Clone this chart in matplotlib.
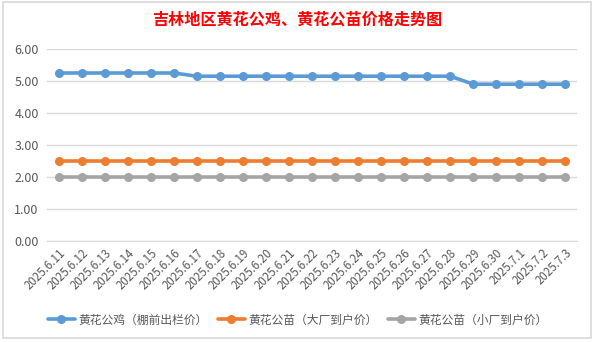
import matplotlib
matplotlib.use("Agg")
import matplotlib.pyplot as plt
from matplotlib.patches import Rectangle

plt.rcParams['font.family'] = ['Noto Sans CJK SC', 'DejaVu Sans']

dates = ["2025.6.11", "2025.6.12", "2025.6.13", "2025.6.14", "2025.6.15", "2025.6.16",
         "2025.6.17", "2025.6.18", "2025.6.19", "2025.6.20", "2025.6.21", "2025.6.22",
         "2025.6.23", "2025.6.24", "2025.6.25", "2025.6.26", "2025.6.27", "2025.6.28",
         "2025.6.29", "2025.6.30", "2025.7.1", "2025.7.2", "2025.7.3"]
rooster = [5.25, 5.25, 5.25, 5.25, 5.25, 5.25,
           5.15, 5.15, 5.15, 5.15, 5.15, 5.15,
           5.15, 5.15, 5.15, 5.15, 5.15, 5.15,
           4.90, 4.90, 4.90, 4.90, 4.90]
chick_large = [2.5] * 23
chick_small = [2.0] * 23
series_names = ["黄花公鸡（棚前出栏价）", "黄花公苗（大厂到户价）", "黄花公苗（小厂到户价）"]
title = "吉林地区黄花公鸡、黄花公苗价格走势图"
yticks = [0, 1, 2, 3, 4, 5, 6]

colors = ["#5B9BD5", "#ED7D31", "#A5A5A5"]

fig = plt.figure(figsize=(5.95, 3.42), dpi=100)
fig.patch.set_facecolor("white")

# chart frame
fig.patches.append(Rectangle((3 / 595, 1 - 338 / 342), 588 / 595, 336 / 342,
                             transform=fig.transFigure, fill=False,
                             edgecolor="#D9D9D9", linewidth=1.2))

ax = fig.add_axes([47 / 595, 1 - 241 / 342, 530 / 595, 192 / 342])
x = list(range(len(dates)))
for vals, c, name in zip([rooster, chick_large, chick_small], colors, series_names):
    ax.plot(x, vals, color=c, linewidth=2.6, marker="o", markersize=5.5,
            label=name, solid_capstyle="round", zorder=3)

ax.set_xlim(-0.5, len(dates) - 0.5)
ax.set_ylim(0, 6)
ax.set_yticks(yticks)
ax.set_yticklabels([f"{v:.2f}" for v in yticks], color="#595959", fontsize=9)
ax.grid(axis="y", color="#D9D9D9", linewidth=1)
ax.set_axisbelow(True)
for s in ["top", "right", "left"]:
    ax.spines[s].set_visible(False)
ax.spines["bottom"].set_color("#D9D9D9")
ax.tick_params(axis="both", length=0, pad=6)
ax.set_xticks(x)
ax.set_xticklabels(dates, rotation=45, ha="right", va="top",
                   rotation_mode="anchor", fontsize=8.3, color="#595959")
ax.tick_params(axis="x", pad=4)

fig.text(0.5, 1 - 20 / 342, title, ha="center", va="center",
         color="#FF0000", fontsize=11.6, fontweight="bold")

fig.legend(loc="center", bbox_to_anchor=(0.5, 1 - 320 / 342), ncol=3,
           frameon=False, fontsize=8.5, handlelength=2.3, columnspacing=0.9,
           handletextpad=0.25, labelcolor="#595959")

fig.savefig("out.png", dpi=100, facecolor="white")
